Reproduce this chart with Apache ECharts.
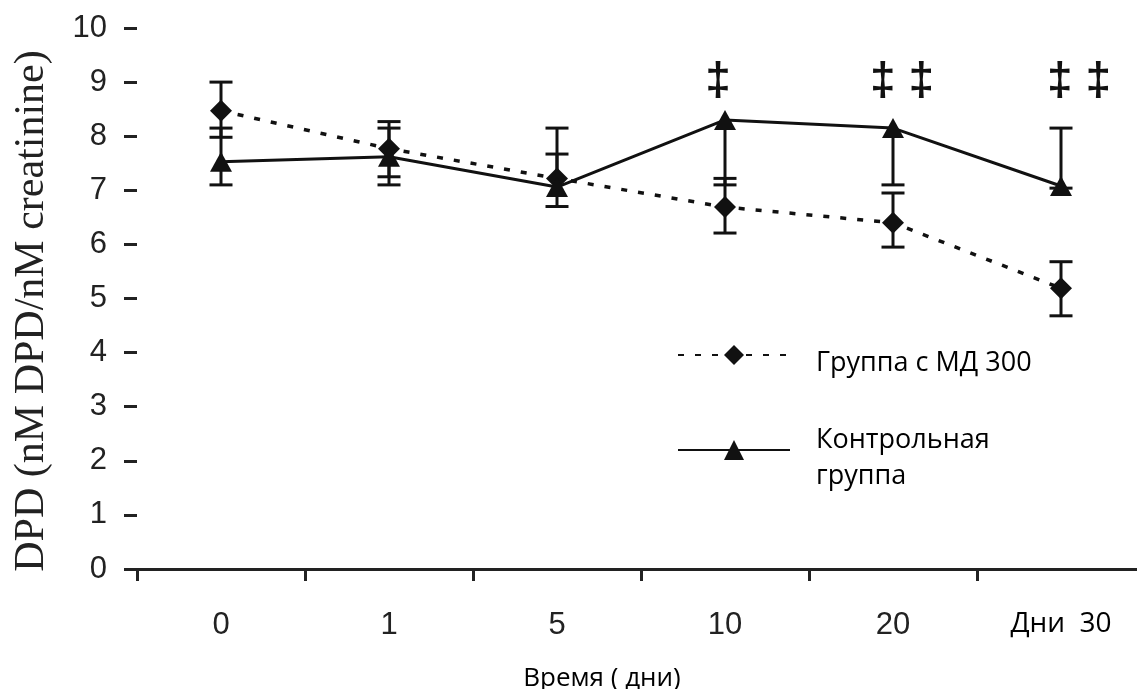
<!DOCTYPE html>
<html><head><meta charset="utf-8">
<script src="https://cdn.jsdelivr.net/npm/echarts@6/dist/echarts.min.js"></script>
<style>html,body{margin:0;padding:0;background:#fff}#c{width:1137px;height:689px}</style>
</head><body><div id="c"></div>
<script>
// ---- data ----
const categories = ['0', '1', '5', '10', '20', 'Дни  30'];
const seriesNames = ['Группа с МД 300', 'Контрольная\nгруппа'];
const mdValues   = [8.47, 7.77, 7.22, 6.69, 6.40, 5.19];
const mdHigh     = [9.00, 8.27, 7.67, 7.22, 6.95, 5.68];
const mdLow      = [7.98, 7.25, 6.70, 6.21, 5.95, 4.68];
const ctrlValues = [7.53, 7.62, 7.06, 8.30, 8.15, 7.08];
const ctrlHigh   = [8.15, 8.15, 8.15, null, null, 8.15];
const ctrlLow    = [7.10, 7.10, null, 7.10, 7.10, 7.04];
const sigMarks   = ['', '', '', '‡', '‡ ‡', '‡ ‡'];
const sigLevel   = 9.0;
const yAxisTitle = 'DPD (nM DPD/nM creatinine)';
const xAxisTitle = 'Время ( дни)';

// ---- styling ----
const INK = '#111';
const markOffsets = [0, 0, 0, -7, 9, 18];

function errorBars(vals, lows, highs) {
  return {
    type: 'custom', silent: true, z: 2,
    data: vals.map((v, i) => [i, v]),
    encode: { x: 0, y: 1 },
    renderItem(params, api) {
      const i = params.dataIndex;
      const top = highs[i] != null ? highs[i] : vals[i];
      const bot = lows[i] != null ? lows[i] : vals[i];
      const pT = api.coord([i, top]);
      const pB = api.coord([i, bot]);
      const hw = 11.5;
      const st = { stroke: INK, lineWidth: 3 };
      const ch = [{ type: 'line', shape: { x1: pT[0], y1: pT[1], x2: pB[0], y2: pB[1] }, style: st }];
      if (highs[i] != null) ch.push({ type: 'line', shape: { x1: pT[0] - hw, y1: pT[1], x2: pT[0] + hw, y2: pT[1] }, style: st });
      if (lows[i] != null) ch.push({ type: 'line', shape: { x1: pB[0] - hw, y1: pB[1], x2: pB[0] + hw, y2: pB[1] }, style: st });
      return { type: 'group', children: ch };
    }
  };
}

const chart = echarts.init(document.getElementById('c'), null, { renderer: 'canvas' });
chart.setOption({
  animation: false,
  backgroundColor: '#fff',
  grid: { left: 137, right: -8, top: 28, bottom: 120, outerBoundsMode: 'none', containLabel: false },
  legend: {
    data: seriesNames,
    orient: 'vertical',
    left: 672, top: 340,
    itemWidth: 112, itemHeight: 25, itemGap: 50,
    selectedMode: false,
    formatter: n => n.split('\n').map(s => '{t|' + s + '}').join('\n'),
    textStyle: {
      padding: [16, 0, 0, 0],
      rich: { t: { fontFamily: 'Open Sans', fontSize: 27, color: '#000', lineHeight: 36, padding: [0, 0, 0, 21] } }
    }
  },
  xAxis: {
    type: 'category', data: categories, boundaryGap: true,
    axisLine: { show: true, lineStyle: { color: '#222', width: 3 } },
    axisTick: { show: true, interval: 0, alignWithLabel: false, inside: false, length: 12, lineStyle: { color: '#222', width: 3 } },
    axisLabel: {
      interval: 0, margin: 41, fontSize: 31, fontFamily: 'Liberation Sans', color: '#222',
      formatter: v => v.indexOf('Дни') === 0 ? '{d|' + v + '}' : v,
      rich: { d: { fontFamily: 'Open Sans', fontSize: 28, color: '#000' } }
    },
    name: xAxisTitle, nameLocation: 'middle', nameGap: 97,
    nameTextStyle: { fontFamily: 'Open Sans', fontSize: 26, color: '#000', padding: [0, 78, 0, 0] },
    splitLine: { show: false }
  },
  yAxis: {
    type: 'value', min: 0, max: 10, interval: 1,
    axisLine: { show: false },
    axisTick: { show: true, length: 13, lineStyle: { color: '#222', width: 3 } },
    axisLabel: { margin: 30, fontSize: 31, fontFamily: 'Liberation Sans', color: '#222' },
    splitLine: { show: false },
    name: yAxisTitle, nameLocation: 'middle', nameGap: 84,
    nameTextStyle: { fontFamily: 'Liberation Serif', fontSize: 42, color: '#222', padding: [0, 25, 0, 0] }
  },
  series: [
    errorBars(mdValues, mdLow, mdHigh),
    errorBars(ctrlValues, ctrlLow, ctrlHigh),
    {
      name: seriesNames[0], type: 'line', data: mdValues, z: 3,
      symbol: 'diamond', symbolSize: [22, 22], showAllSymbol: true,
      lineStyle: { color: INK, width: 3.5, type: [6, 11] },
      itemStyle: { color: INK }
    },
    {
      name: seriesNames[1], type: 'line', data: ctrlValues, z: 4,
      symbol: 'triangle', symbolSize: [22, 20], showAllSymbol: true,
      lineStyle: { color: INK, width: 3 },
      itemStyle: { color: INK }
    },
    {
      type: 'custom', silent: true, z: 5,
      data: sigMarks.map((m, i) => [i, sigLevel]),
      encode: { x: 0, y: 1 },
      renderItem(params, api) {
        const i = params.dataIndex;
        if (!sigMarks[i]) return null;
        const p = api.coord([i, sigLevel]);
        return {
          type: 'text', x: p[0] + markOffsets[i], y: p[1],
          style: { text: sigMarks[i], font: 'bold 46px "Liberation Sans"', fill: INK, align: 'center', verticalAlign: 'middle' }
        };
      }
    }
  ]
});
</script>
</body></html>
